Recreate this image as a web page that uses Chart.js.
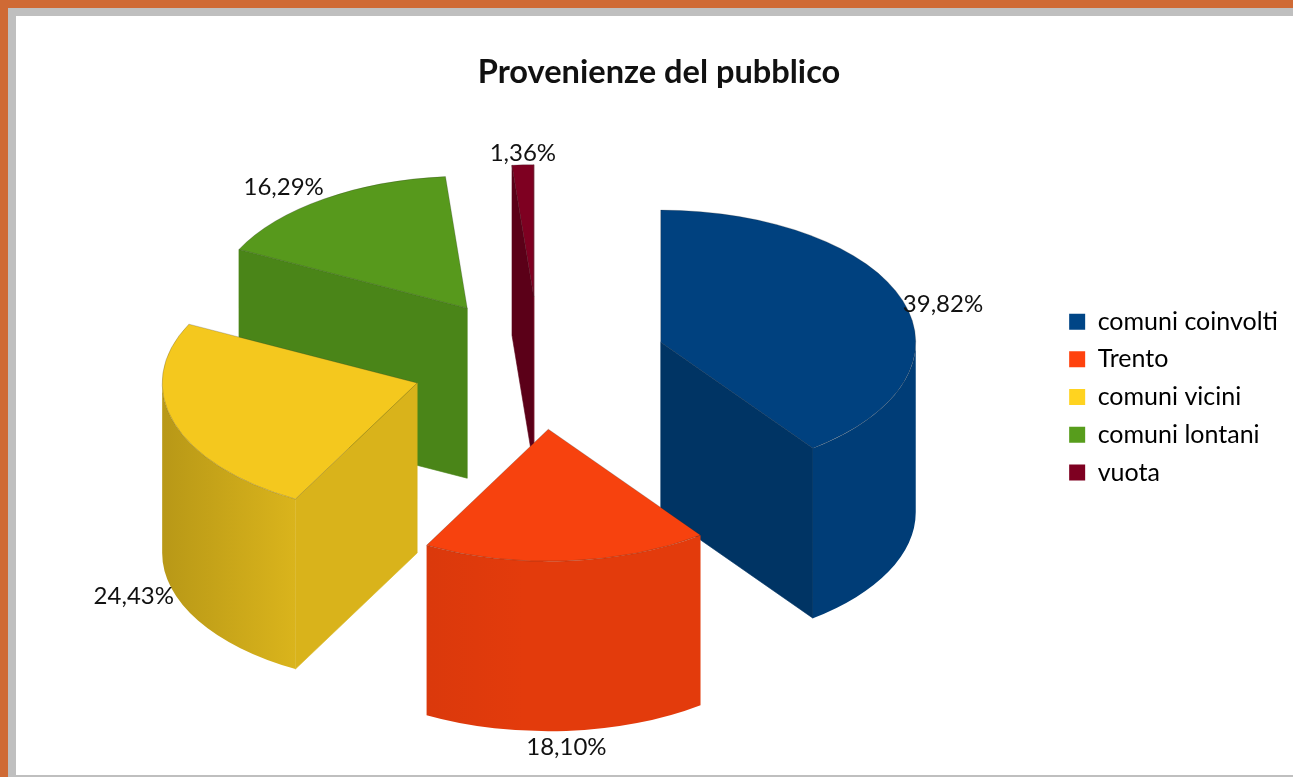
<!DOCTYPE html>
<html>
<head>
<meta charset="utf-8">
<title>Provenienze del pubblico</title>
<script src="https://cdn.jsdelivr.net/npm/chart.js@4/dist/chart.umd.min.js"></script>
<style>
  html, body { margin: 0; height: 100%; overflow: hidden; background: #cf6a35; }
  #frame { position: absolute; left: 8px; top: 8px; right: 0; bottom: 0; background: #bfbfbf; }
  #sheet { position: absolute; left: 8px; top: 8px; right: 0; bottom: 2px; background: #fff; }
  #myChart { position: absolute; left: 0; top: 0; }
</style>
</head>
<body>
<div id="frame"><div id="sheet"></div></div>
<canvas id="myChart" width="1318" height="777"></canvas>
<script>
// Data
var categories = ['comuni coinvolti', 'Trento', 'comuni vicini', 'comuni lontani', 'vuota'];
var percentValues = [39.82, 18.10, 24.43, 16.29, 1.36];

// Colours
var legendColors = ['#004586', '#ff420e', '#ffd320', '#579d1c', '#7e0021'];
var topColors = ['#00417f', '#f7420e', '#f4c81e', '#57991c', '#7e0021'];

// Look of the fake 3D pie
var pieRadius = 255;
var explode = 128;
var squash = 0.518;
var depth = 170;
var pieLift = 34;
var pieNudge = -4;

var fontName = 'Lato, "Open Sans", sans-serif';

function shade(hex, f) {
  var n = parseInt(hex.slice(1), 16);
  var r = Math.round((n >> 16) * f);
  var g = Math.round(((n >> 8) & 255) * f);
  var b = Math.round((n & 255) * f);
  return 'rgb(' + r + ',' + g + ',' + b + ')';
}

// Where a sector really sits once it is pulled out and flattened
function sectorGeometry(arc) {
  var mid = (arc.startAngle + arc.endAngle) / 2;
  return {
    mid: mid,
    x: arc.x + pieNudge + Math.cos(mid) * explode,
    y: arc.y - pieLift + Math.sin(mid) * explode * squash
  };
}

function rimPoint(g, angle) {
  return { x: g.x + Math.cos(angle) * pieRadius, y: g.y + Math.sin(angle) * pieRadius * squash };
}

// One flat wall, from the centre of the sector to a point of its rim
function drawCutWall(ctx, g, angle, color) {
  var p = rimPoint(g, angle);
  var ex = p.x - g.x, ey = p.y - g.y;
  var len = Math.sqrt(ex * ex + ey * ey);
  // walls turned to the left get darker
  var nx = (ex > 0 ? -ey : ey) / len;
  var f = Math.max(0.72, 0.85 + 0.32 * Math.min(0, nx + 0.25));
  ctx.fillStyle = ctx.strokeStyle = shade(color, f);
  ctx.lineWidth = 0.6;
  ctx.beginPath();
  ctx.moveTo(g.x, g.y);
  ctx.lineTo(p.x, p.y);
  ctx.lineTo(p.x, p.y + depth);
  ctx.lineTo(g.x, g.y + depth);
  ctx.closePath();
  ctx.fill();
  ctx.stroke();
}

// The rounded wall, only the part that faces the viewer
function drawCurvedWall(ctx, g, arc, color) {
  var lo = Math.max(arc.startAngle, 0);
  var hi = Math.min(arc.endAngle, Math.PI);
  if (hi <= lo) return;
  var grad = ctx.createLinearGradient(g.x - pieRadius, 0, g.x + pieRadius, 0);
  grad.addColorStop(0, shade(color, 0.72));
  grad.addColorStop(0.27, shade(color, 0.86));
  grad.addColorStop(0.45, shade(color, 0.89));
  grad.addColorStop(1, shade(color, 0.89));
  ctx.fillStyle = grad;
  ctx.beginPath();
  ctx.ellipse(g.x, g.y, pieRadius, pieRadius * squash, 0, lo, hi);
  ctx.ellipse(g.x, g.y + depth, pieRadius, pieRadius * squash, 0, hi, lo, true);
  ctx.closePath();
  ctx.fill();
}

var pie3d = {
  id: 'pie3d',
  beforeDatasetsDraw: function (chart) {
    var ctx = chart.ctx;
    var arcs = chart.getDatasetMeta(0).data.slice();
    // back to front
    arcs.sort(function (a, b) { return sectorGeometry(a).y - sectorGeometry(b).y; });
    arcs.forEach(function (arc) {
      var g = sectorGeometry(arc);
      var color = legendColors[chart.getDatasetMeta(0).data.indexOf(arc)];
      // only the walls turned to the viewer
      if (Math.cos(arc.startAngle) < 0) drawCutWall(ctx, g, arc.startAngle, color);
      if (Math.cos(arc.endAngle) > 0) drawCutWall(ctx, g, arc.endAngle, color);
      drawCurvedWall(ctx, g, arc, color);
      ctx.save();
      ctx.translate(g.x, g.y);
      ctx.scale(1, squash);
      ctx.translate(-arc.x, -arc.y);
      arc.draw(ctx);
      ctx.restore();
    });
    return false;
  },
  // Percent labels sit just outside the rim
  afterDraw: function (chart) {
    var ctx = chart.ctx;
    ctx.save();
    ctx.font = '24px ' + fontName;
    ctx.fillStyle = '#111';
    chart.getDatasetMeta(0).data.forEach(function (arc, i) {
      var g = sectorGeometry(arc);
      var p = rimPoint(g, g.mid);
      var c = Math.cos(g.mid), s = Math.sin(g.mid);
      if (s > 0) p.y += depth;
      if (s > -0.5) p.y += 4;
      ctx.textAlign = c > 0.5 ? 'left' : (c < -0.5 ? 'right' : 'center');
      ctx.textBaseline = s > 0.5 ? 'top' : (s < -0.5 ? 'bottom' : 'middle');
      ctx.fillText(percentValues[i].toFixed(2).replace('.', ',') + '%', p.x, p.y);
    });
    ctx.restore();
  }
};

var ctx = document.getElementById('myChart').getContext('2d');

var myChart = new Chart(ctx, {
  type: 'pie',
  data: {
    labels: categories,
    datasets: [{
      data: percentValues,
      backgroundColor: topColors,
      borderColor: 'rgba(40, 40, 40, 0.3)',
      borderWidth: 1,
      radius: pieRadius
    }]
  },
  plugins: [pie3d],
  options: {
    responsive: false,
    animation: false,
    layout: { padding: { left: 30, right: 30, top: 0, bottom: 103 } },
    plugins: {
      title: {
        display: true,
        text: 'Provenienze del pubblico',
        color: '#111',
        font: { family: fontName, size: 32.6, weight: 'bold' },
        padding: { top: 53, bottom: 28 }
      },
      legend: {
        position: 'right',
        fullSize: false,
        labels: {
          boxWidth: 16,
          boxHeight: 16,
          padding: 12.7,
          color: '#111',
          font: { family: fontName, size: 25 },
          generateLabels: function () {
            return categories.map(function (name, i) {
              return { text: name, fillStyle: legendColors[i], strokeStyle: legendColors[i], lineWidth: 0, index: i };
            });
          }
        }
      },
      tooltip: { enabled: false }
    }
  }
});
</script>
</body>
</html>
